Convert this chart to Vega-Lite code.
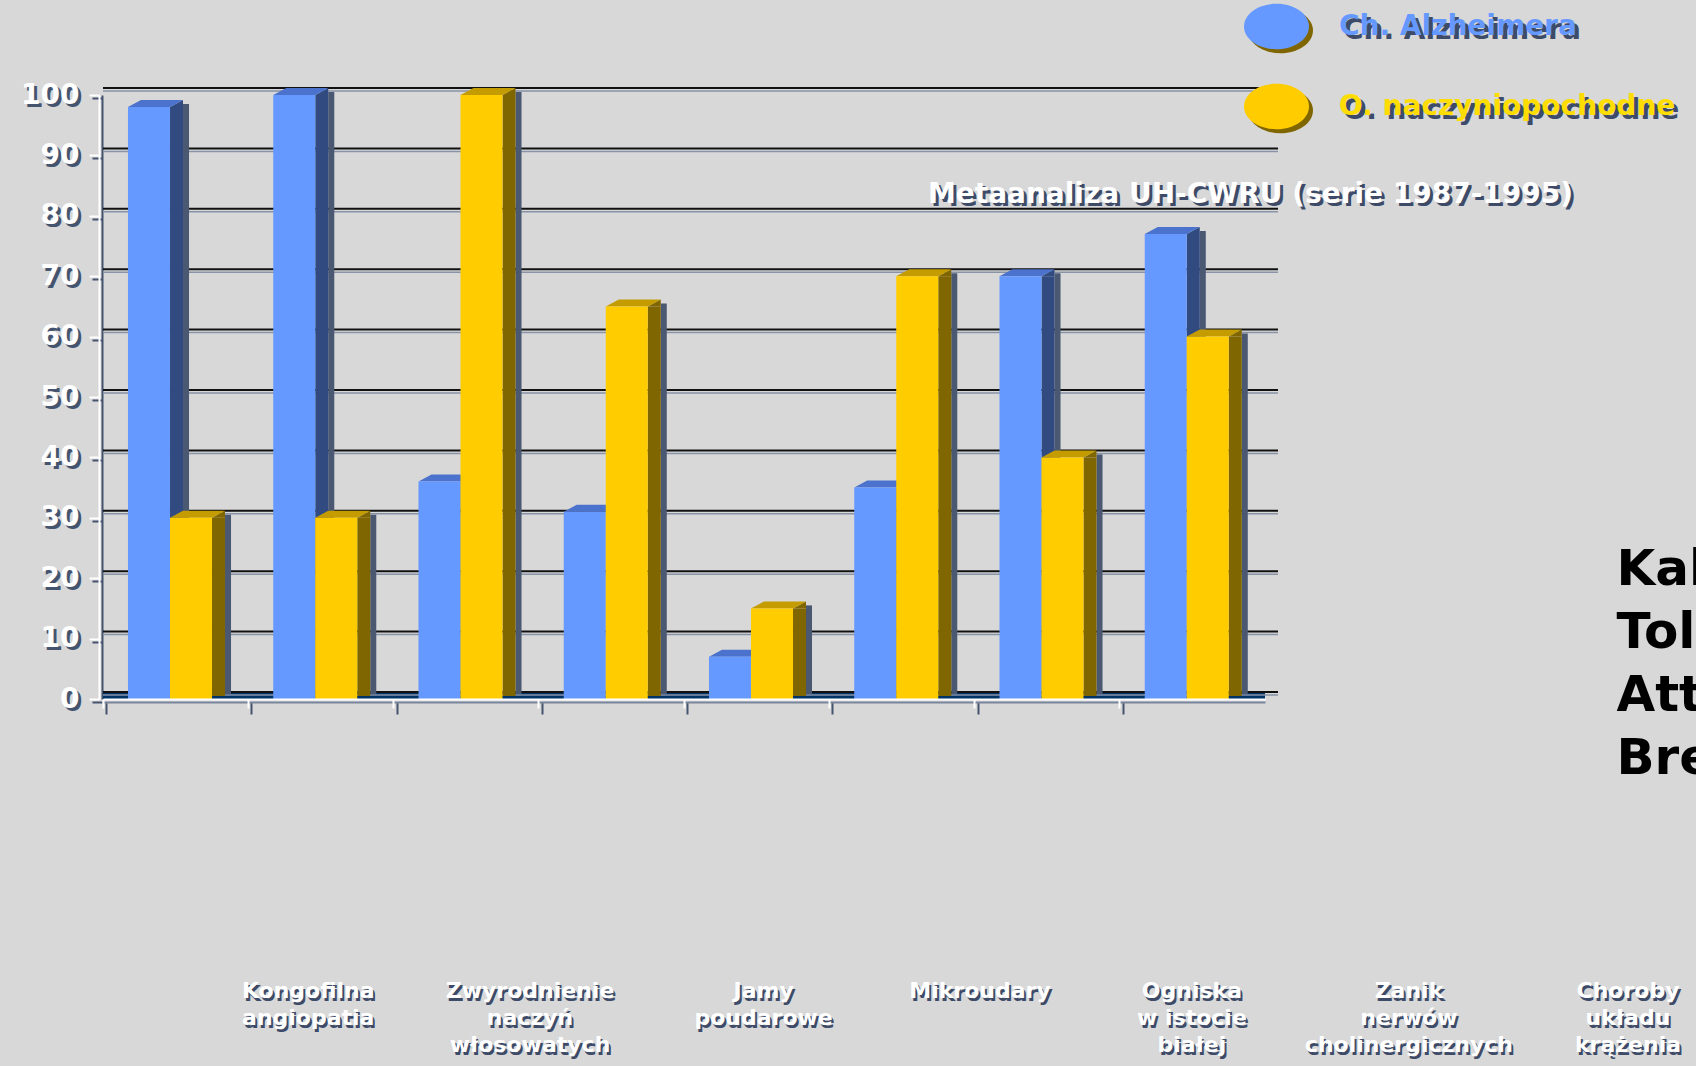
{
  "$schema": "https://vega.github.io/schema/vega-lite/v6.json",
  "width": 1162,
  "height": 604,
  "autosize": {"type": "none"},
  "padding": {"left": 103, "top": 95, "right": 431, "bottom": 367},
  "background": "#d8d8d8",
  "config": {"view": {"stroke": null}, "font": "DejaVu Sans"},
  "datasets": {
    "bars": [
      {"cat": "1", "series": "Ch. Alzheimera", "value": 98},
      {"cat": "1", "series": "O. naczyniopochodne", "value": 30},
      {"cat": "2", "series": "Ch. Alzheimera", "value": 100},
      {"cat": "2", "series": "O. naczyniopochodne", "value": 30},
      {"cat": "3", "series": "Ch. Alzheimera", "value": 36},
      {"cat": "3", "series": "O. naczyniopochodne", "value": 100},
      {"cat": "4", "series": "Ch. Alzheimera", "value": 31},
      {"cat": "4", "series": "O. naczyniopochodne", "value": 65},
      {"cat": "5", "series": "Ch. Alzheimera", "value": 7},
      {"cat": "5", "series": "O. naczyniopochodne", "value": 15},
      {"cat": "6", "series": "Ch. Alzheimera", "value": 35},
      {"cat": "6", "series": "O. naczyniopochodne", "value": 70},
      {"cat": "7", "series": "Ch. Alzheimera", "value": 70},
      {"cat": "7", "series": "O. naczyniopochodne", "value": 40},
      {"cat": "8", "series": "Ch. Alzheimera", "value": 77},
      {"cat": "8", "series": "O. naczyniopochodne", "value": 60}
    ],
    "grid": [
      {"v": 0}, {"v": 10}, {"v": 20}, {"v": 30}, {"v": 40}, {"v": 50},
      {"v": 60}, {"v": 70}, {"v": 80}, {"v": 90}, {"v": 100}
    ],
    "notes": [
      {"kind": "cat", "pos": 1.413, "level": -46.7, "text": ["Kongofilna", "angiopatia"]},
      {"kind": "cat", "pos": 2.94, "level": -46.7, "text": ["Zwyrodnienie", "naczyń", "włosowatych"]},
      {"kind": "cat", "pos": 4.548, "level": -46.7, "text": ["Jamy", "poudarowe"]},
      {"kind": "cat", "pos": 6.038, "level": -46.7, "text": ["Mikroudary"]},
      {"kind": "cat", "pos": 7.497, "level": -46.7, "text": ["Ogniska", "w istocie", "białej"]},
      {"kind": "cat", "pos": 8.991, "level": -46.7, "text": ["Zanik", "nerwów", "cholinergicznych"]},
      {"kind": "cat", "pos": 10.499, "level": -46.7, "text": ["Choroby", "układu", "krążenia"]},
      {"kind": "sub", "pos": 7.9, "level": 83.4, "text": "Metaanaliza UH-CWRU (serie 1987-1995)"},
      {"kind": "names", "pos": 10.42, "level": 21.4, "text": ["Kala", "Tol", "Att", "Bre"]}
    ]
  },
  "layer": [
    {
      "data": {"name": "bars"},
      "layer": [
        {
          "data": {"name": "grid"},
          "transform": [{"filter": "datum.v == 0"}],
          "mark": {"type": "rule", "color": "#003366", "strokeWidth": 7, "yOffset": -3.5, "x2Offset": 13},
          "encoding": {"y": {"field": "v", "type": "quantitative", "axis": null}}
        },
        {
          "data": {"name": "grid"},
          "mark": {"type": "rule", "color": "#8893a8", "strokeWidth": 1.5, "yOffset": -4, "xOffset": 13, "x2Offset": 13},
          "encoding": {"y": {"field": "v", "type": "quantitative", "axis": null}}
        },
        {
          "data": {"name": "grid"},
          "mark": {"type": "rule", "color": "#111111", "strokeWidth": 2, "yOffset": -7, "xOffset": 13, "x2Offset": 13},
          "encoding": {"y": {"field": "v", "type": "quantitative", "axis": null}}
        },
        {
          "transform": [{"filter": "datum.series === 'Ch. Alzheimera'"}],
          "mark": {"type": "rule", "strokeWidth": 6, "xOffset": 10.4, "yOffset": -3, "y2Offset": -5, "color": "#4a5872"},
          "encoding": {
            "x": {"field": "cat", "type": "nominal", "scale": {"paddingInner": 0, "paddingOuter": 0}, "axis": null},
            "y": {"field": "value", "type": "quantitative", "axis": null},
            "y2": {"datum": 0}
          }
        },
        {
          "transform": [{"filter": "datum.series === 'O. naczyniopochodne'"}],
          "mark": {"type": "rule", "strokeWidth": 6, "xOffset": 52.4, "yOffset": -3, "y2Offset": -5, "color": "#4a5872"},
          "encoding": {
            "x": {"field": "cat", "type": "nominal", "axis": null},
            "y": {"field": "value", "type": "quantitative", "axis": null},
            "y2": {"datum": 0}
          }
        },
        {
          "transform": [{"filter": "datum.series === 'Ch. Alzheimera'"}],
          "mark": {"type": "rule", "strokeWidth": 13, "xOffset": 0.9, "y2Offset": -3, "color": "#314b80"},
          "encoding": {
            "x": {"field": "cat", "type": "nominal", "axis": null},
            "y": {"field": "value", "type": "quantitative", "axis": null},
            "y2": {"datum": 0}
          }
        },
        {
          "transform": [{"filter": "datum.series === 'O. naczyniopochodne'"}],
          "mark": {"type": "rule", "strokeWidth": 13, "xOffset": 42.9, "y2Offset": -3, "color": "#806600"},
          "encoding": {
            "x": {"field": "cat", "type": "nominal", "axis": null},
            "y": {"field": "value", "type": "quantitative", "axis": null},
            "y2": {"datum": 0}
          }
        },
        {
          "mark": {"type": "point", "shape": "M21,0L34,-7L34,0Z", "size": 4, "filled": true, "opacity": 1, "strokeWidth": 0},
          "encoding": {
            "x": {"field": "cat", "type": "nominal", "axis": null},
            "xOffset": {"field": "series", "type": "nominal", "scale": {"domain": ["Ch. Alzheimera", "O. naczyniopochodne"], "paddingInner": 0, "paddingOuter": 0.729, "align": 0.408}},
            "y": {"field": "value", "type": "quantitative", "axis": null},
            "color": {"condition": {"test": "datum.series === 'Ch. Alzheimera'", "value": "#314b80"}, "value": "#806600"},
            "stroke": {"field": "series", "type": "nominal", "scale": {"range": ["#4a5872", "#4a5872"]},
              "legend": {"orient": "none", "legendX": 1145, "legendY": -97, "title": null, "zindex": 0,
                "symbolType": "M-1,0A1,0.7 0 1,0 1,0A1,0.7 0 1,0 -1,0Z", "symbolSize": 4225, "symbolStrokeWidth": 0,
                "labelFontSize": 28, "labelFont": "DejaVu Sans", "labelFontWeight": "bold", "labelOffset": 30, "labelColor": "#3d4b68",
                "rowPadding": 24, "padding": 0, "labelLimit": 0,
                "encode": {"symbols": {"update": {"fill": {"value": "#44546f"}, "stroke": {"value": "transparent"}, "opacity": {"value": 1}}}}}}
          }
        },
        {
          "mark": {"type": "point", "shape": "M-21,0L-8,-7L34,-7L21,0Z", "size": 4, "filled": true, "opacity": 1, "strokeWidth": 0},
          "encoding": {
            "x": {"field": "cat", "type": "nominal",
              "axis": {"orient": "bottom", "labels": false, "title": null, "offset": 3, "domainColor": "#7a869c", "domainWidth": 2,
                "tickColor": "#44546f", "tickWidth": 2, "tickSize": 12, "tickOffset": 3, "bandPosition": 0, "grid": false, "zindex": 0}},
            "xOffset": {"field": "series", "type": "nominal"},
            "y": {"field": "value", "type": "quantitative",
              "axis": {"orient": "left", "offset": 1, "values": [0, 10, 20, 30, 40, 50, 60, 70, 80, 90, 100], "title": null, "grid": false,
                "domainColor": "#44546f", "domainWidth": 2, "tickColor": "#44546f", "tickWidth": 2, "tickSize": 10, "tickOffset": 3,
                "labelColor": "#44546f", "labelFontSize": 28, "labelFont": "DejaVu Sans", "labelFontWeight": "bold", "labelPadding": 10, "zindex": 0}},
            "color": {"condition": {"test": "datum.series === 'Ch. Alzheimera'", "value": "#4b72cc"}, "value": "#c49c00"}
          }
        },
        {
          "mark": {"type": "bar"},
          "encoding": {
            "x": {"field": "cat", "type": "nominal",
              "axis": {"orient": "bottom", "labels": false, "title": null, "domainColor": "#ffffff", "domainWidth": 2,
                "tickColor": "#ffffff", "tickWidth": 2, "tickSize": 9, "bandPosition": 0, "grid": false, "zindex": 1}},
            "xOffset": {"field": "series", "type": "nominal"},
            "y": {"field": "value", "type": "quantitative", "scale": {"domain": [0, 100], "nice": false},
              "axis": {"orient": "left", "offset": 4, "values": [0, 10, 20, 30, 40, 50, 60, 70, 80, 90, 100], "title": null, "grid": false,
                "domainColor": "#ffffff", "domainWidth": 2, "tickColor": "#ffffff", "tickWidth": 2, "tickSize": 10,
                "labelColor": "#ffffff", "labelFontSize": 28, "labelFont": "DejaVu Sans", "labelFontWeight": "bold", "labelPadding": 10, "zindex": 1}},
            "color": {"field": "series", "type": "nominal",
              "scale": {"domain": ["Ch. Alzheimera", "O. naczyniopochodne"], "range": ["#6699ff", "#ffcc00"]},
              "legend": {"orient": "none", "legendX": 1141, "legendY": -101, "title": null, "zindex": 1,
                "symbolType": "M-1,0A1,0.7 0 1,0 1,0A1,0.7 0 1,0 -1,0Z", "symbolSize": 4225, "symbolStrokeWidth": 0,
                "labelFontSize": 28, "labelFont": "DejaVu Sans", "labelFontWeight": "bold", "labelOffset": 30,
                "rowPadding": 24, "padding": 0, "labelLimit": 0,
                "encode": {"labels": {"update": {"fill": {"signal": "datum.value === 'Ch. Alzheimera' ? '#6699ff' : '#ffdd00'"}}},
                  "symbols": {"update": {"fill": {"signal": "datum.value === 'Ch. Alzheimera' ? '#6699ff' : '#ffdd00'"}}}}}}
          }
        }
      ],
      "resolve": {"axis": {"x": "independent", "y": "independent"}}
    },
    {
      "data": {"name": "notes"},
      "encoding": {
        "x": {"field": "pos", "type": "quantitative", "scale": {"domain": [0, 8], "nice": false, "zero": false}, "axis": null},
        "y": {"field": "level", "type": "quantitative", "scale": {"domain": [0, 100], "nice": false}, "axis": null},
        "text": {"field": "text"}
      },
      "layer": [
        {
          "transform": [{"filter": "datum.kind === 'cat'"}],
          "mark": {"type": "text", "align": "center", "baseline": "top", "fontSize": 22, "fontWeight": "bold", "lineHeight": 27, "color": "#3d4b68", "dx": 2, "dy": 3}
        },
        {
          "transform": [{"filter": "datum.kind === 'cat'"}],
          "mark": {"type": "text", "align": "center", "baseline": "top", "fontSize": 22, "fontWeight": "bold", "lineHeight": 27, "color": "#ffffff"}
        },
        {
          "transform": [{"filter": "datum.kind === 'sub'"}],
          "mark": {"type": "text", "align": "center", "baseline": "middle", "fontSize": 28, "fontWeight": "bold", "color": "#3d4b68", "dx": 3, "dy": 3}
        },
        {
          "transform": [{"filter": "datum.kind === 'sub'"}],
          "mark": {"type": "text", "align": "center", "baseline": "middle", "fontSize": 28, "fontWeight": "bold", "color": "#ffffff"}
        },
        {
          "transform": [{"filter": "datum.kind === 'names'"}],
          "mark": {"type": "text", "align": "left", "baseline": "middle", "fontSize": 50, "fontWeight": "bold", "lineHeight": 63, "color": "#000000"}
        }
      ]
    }
  ],
  "resolve": {"scale": {"x": "independent"}, "axis": {"x": "independent", "y": "independent"}}
}
